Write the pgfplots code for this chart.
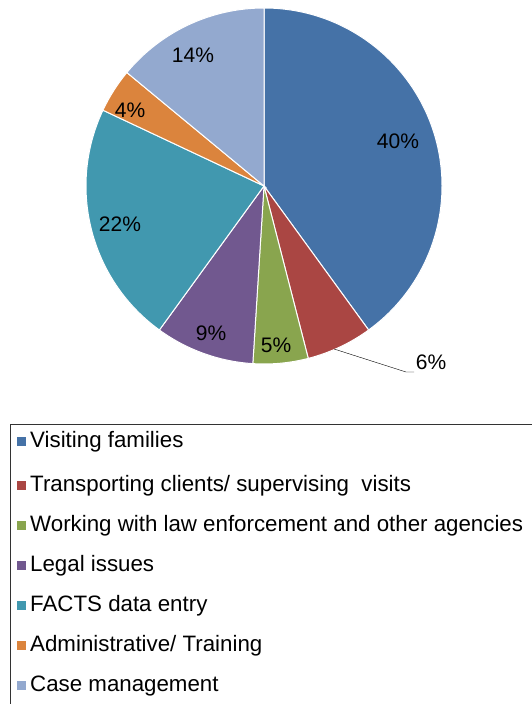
\documentclass[border=0pt]{standalone}
\usepackage{pgfplots}
\pgfplotsset{compat=1.18}
\usepackage{fontspec}
\setmainfont{Liberation Sans}
\definecolor{c1}{HTML}{4572A7}
\definecolor{c2}{HTML}{AA4643}
\definecolor{c3}{HTML}{89A54E}
\definecolor{c4}{HTML}{71588F}
\definecolor{c5}{HTML}{4198AF}
\definecolor{c6}{HTML}{DB843D}
\definecolor{c7}{HTML}{93A9CF}
\newcommand\bigf{\fontsize{21}{24}\selectfont}
\newcommand\legf{\fontsize{22.3}{26}\selectfont}
\newcommand\slice[3]{\fill[#3,draw=white,line width=1pt] (axis cs:264,518) -- ++(#1:178) arc[start angle=#1,end angle=#2,radius=178] -- cycle;}
\newcommand\entry[3]{\fill[#2] (axis cs:17,#1-4.5) rectangle (axis cs:26,#1+4.5);
\node[anchor=west,inner sep=0pt,font=\legf] at (axis cs:30,#1) {#3};}
\newcommand\lab[3]{\node[font=\bigf] at (axis cs:#1,#2) {#3\%};}
\begin{document}
\begin{tikzpicture}
\begin{axis}[x=1pt,y=1pt,xmin=0,xmax=531,ymin=0,ymax=704,hide axis,clip=false,scale only axis,
  anchor=origin, at={(0,0)}]
\slice{90}{-54}{c1}
\slice{-54}{-75.6}{c2}
\slice{-75.6}{-93.6}{c3}
\slice{-93.6}{-126}{c4}
\slice{-126}{-205.2}{c5}
\slice{-205.2}{-219.6}{c6}
\slice{-219.6}{-270}{c7}
\draw (axis cs:334,355) -- (axis cs:406,332) -- (axis cs:414,332);
\lab{398}{563}{40}
\lab{431}{342}{6}
\lab{276}{359}{5}
\lab{211}{371}{9}
\lab{120}{480}{22}
\lab{130}{594}{4}
\lab{193}{649}{14}
\draw[black!80] (axis cs:10,-5) -- (axis cs:10,280) -- (axis cs:540,280);
\entry{262}{c1}{Visiting families}
\entry{218}{c2}{Transporting clients/ supervising\ \ visits}
\entry{178}{c3}{Working with law enforcement and other agencies}
\entry{138}{c4}{Legal issues}
\entry{98}{c5}{FACTS data entry}
\entry{58}{c6}{Administrative/ Training}
\entry{18}{c7}{Case management}
\end{axis}
\pgfresetboundingbox
\useasboundingbox (0,0) rectangle (531pt,704pt);
\end{tikzpicture}
\end{document}
